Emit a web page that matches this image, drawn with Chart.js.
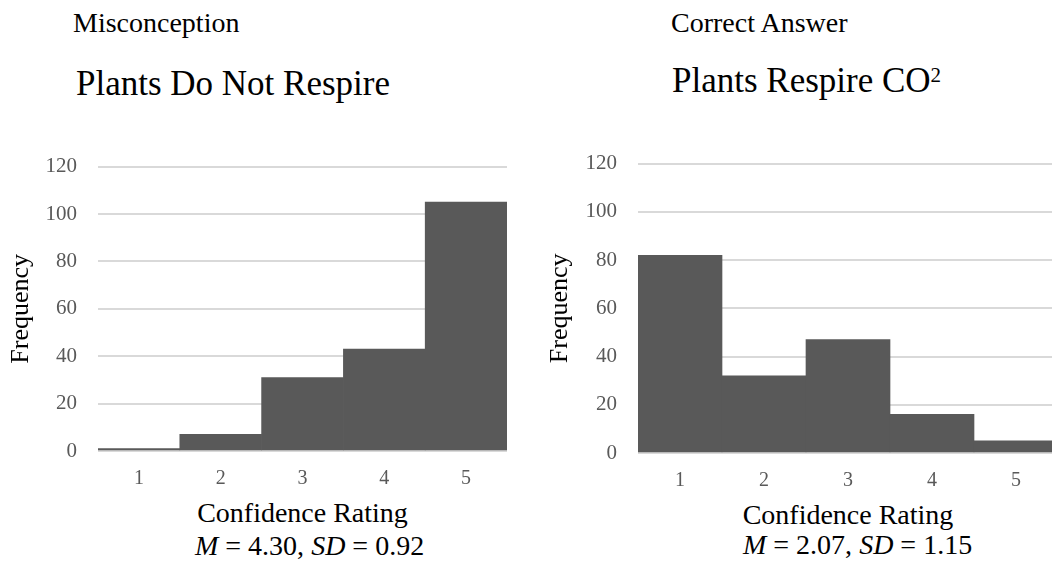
<!DOCTYPE html>
<html>
<head>
  <meta name="viewport" content="width=device-width, initial-scale=1.0">
  <title>Confidence Rating Histograms</title>
  <script src="https://cdn.jsdelivr.net/npm/chart.js"></script>
  <style>
    body {
      margin: 0;
      padding: 0;
      width: 1052px;
      height: 564px;
      overflow: hidden;
      position: relative;
      background: #fff;
      font-family: "Liberation Serif", "Times New Roman", serif;
      color: #000;
    }
    .box { position: absolute; }
    .lbl { position: absolute; white-space: nowrap; line-height: 1; }
    .small { font-size: 28px; }
    .big { font-size: 35px; }
    .axis { font-size: 28px; text-align: center; }
    .stat { font-size: 28px; }
    sup { font-size: 0.6em; vertical-align: 0.5em; line-height: 0; }
  </style>
</head>
<body>
  <div class="lbl small" style="left:73px; top:9px;">Misconception</div>
  <div class="lbl big" style="left:76px; top:66px;">Plants Do Not Respire</div>
  <div class="lbl small" style="left:671px; top:9px;">Correct Answer</div>
  <div class="lbl big" style="left:672px; top:63px;">Plants Respire CO<sup>2</sup></div>

  <div class="box" style="left:0; top:133px; width:520px; height:358px;"><canvas id="left"></canvas></div>
  <div class="box" style="left:530px; top:130px; width:540px; height:363px;"><canvas id="right"></canvas></div>

  <div class="lbl axis" style="left:98px; width:409px; top:499px;">Confidence Rating</div>
  <div class="lbl axis" style="left:638px; width:420px; top:501px;">Confidence Rating</div>
  <div class="lbl stat" style="left:195px; top:532px;"><i>M</i> = 4.30, <i>SD</i> = 0.92</div>
  <div class="lbl stat" style="left:743px; top:531px;"><i>M</i> = 2.07, <i>SD</i> = 1.15</div>

  <script>
    const ratings = ['1', '2', '3', '4', '5'];
    const misconceptionFreq = [1, 7, 31, 43, 105];
    const correctFreq = [82, 32, 47, 16, 5];
    const yTicks = [0, 20, 40, 60, 80, 100, 120];

    const serif = '"Liberation Serif", "Times New Roman", serif';
    const barColor = '#595959';

    function makeChart(id, values, opts) {
      const ctx = document.getElementById(id).getContext('2d');
      return new Chart(ctx, {
        type: 'bar',
        data: {
          labels: ratings,
          datasets: [{
            data: values,
            backgroundColor: barColor,
            borderWidth: 0,
            barPercentage: 1,
            categoryPercentage: 1
          }]
        },
        options: {
          responsive: true,
          maintainAspectRatio: false,
          animation: false,
          layout: { padding: opts.padding },
          plugins: { legend: { display: false }, tooltip: { enabled: false } },
          scales: {
            x: {
              grid: { display: false, drawTicks: false },
              border: { display: false },
              afterFit: s => { s.height = 40; },
              ticks: { color: barColor, font: { family: serif, size: 20 }, padding: 16 }
            },
            y: {
              min: 0,
              max: yTicks[yTicks.length - 1],
              afterBuildTicks: s => { s.ticks = yTicks.map(v => ({ value: v })); },
              afterFit: s => { s.width = opts.yWidth; },
              grid: { color: '#d9d9d9', lineWidth: 2, drawTicks: false },
              border: { display: false },
              ticks: { color: barColor, font: { family: serif, size: 21 }, padding: 21 },
              title: {
                display: true,
                text: 'Frequency',
                color: '#000',
                font: { family: serif, size: 26 },
                padding: 0
              }
            }
          }
        }
      });
    }

    makeChart('left', misconceptionFreq, { padding: { left: 6, right: 13, top: 20, bottom: 0 }, yWidth: 92 });
    makeChart('right', correctFreq, { padding: { left: 15, right: 12, top: 20, bottom: 0 }, yWidth: 93 });
  </script>
</body>
</html>
